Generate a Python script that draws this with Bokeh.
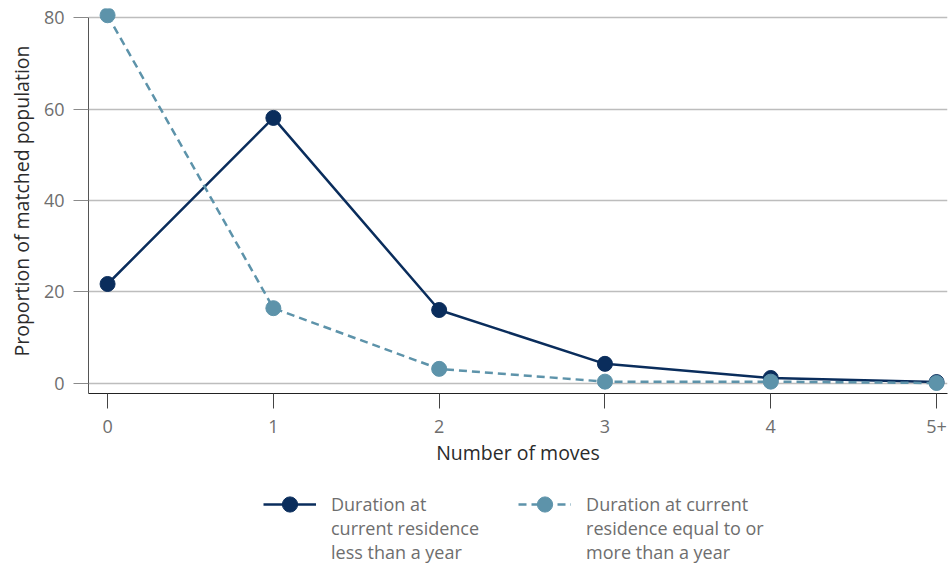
from bokeh.plotting import figure
from bokeh.layouts import column
from bokeh.models import Range1d, FixedTicker, Legend, LegendItem
from bokeh.embed import file_html
from bokeh.resources import INLINE

categories = ["0", "1", "2", "3", "4", "5+"]
less_than_year = [21.7, 58.1, 16.0, 4.2, 1.1, 0.2]
year_or_more = [80.6, 16.4, 3.1, 0.3, 0.3, 0.0]
y_ticks = [0, 20, 40, 60, 80]
series_labels = [
    "Duration at\ncurrent residence\nless than a year",
    "Duration at current\nresidence equal to or\nmore than a year",
]

DARK = "#0a2d5c"
LIGHT = "#5d93aa"
FONT = "Open Sans"

x = list(range(len(categories)))

p = figure(
    width=950, height=470,
    x_range=Range1d(-0.115, 5.066), y_range=Range1d(-2.3, 82.08),
    output_backend="svg", toolbar_location=None,
    min_border_left=88, min_border_right=3, min_border_top=8, min_border_bottom=77,
)
p.outline_line_color = None
p.background_fill_color = "white"

p.line(x, less_than_year, line_color=DARK, line_width=2.5)
p.scatter(x, less_than_year, size=15, fill_color=DARK, line_color=DARK)
p.line(x, year_or_more, line_color=LIGHT, line_width=2.5, line_dash="8 5")
p.scatter(x, year_or_more, size=15, fill_color=LIGHT, line_color=LIGHT)

# axes
p.xaxis.ticker = FixedTicker(ticks=x)
p.xaxis.major_label_overrides = {i: c for i, c in enumerate(categories)}
p.yaxis.ticker = FixedTicker(ticks=y_ticks)
p.yaxis.bounds = (-2.3, 80)

for ax in (p.xaxis[0], p.yaxis[0]):
    ax.major_tick_in = 0
    ax.major_tick_out = 15
    ax.minor_tick_line_color = None
    ax.major_label_text_font = FONT
    ax.major_label_text_font_size = "18px"
    ax.major_label_text_color = "#6e6e6e"
    ax.axis_label_text_font = FONT
    ax.axis_label_text_font_size = "19.5px"
    ax.axis_label_text_font_style = "normal"
    ax.axis_label_text_color = "#2b2b2b"

p.xaxis.major_label_standoff = 11
p.yaxis.major_label_standoff = 9
p.xaxis.axis_label = "Number of moves"
p.yaxis.axis_label = "Proportion of matched population"
p.xaxis.axis_line_color = "#222222"
p.xaxis.major_tick_line_color = "#444444"
p.yaxis.axis_line_color = "#555555"
p.yaxis.major_tick_line_color = "#8a8a8a"
p.xaxis.axis_label_standoff = 3
p.yaxis.axis_label_standoff = 6

p.xgrid.grid_line_color = None
p.ygrid.grid_line_color = "#bdbdbd"
p.ygrid.grid_line_width = 1.5

# legend panel as a separate figure below the chart
lf = figure(
    width=950, height=98,
    x_range=Range1d(-1, 0), y_range=Range1d(-1, 0),
    output_backend="svg", toolbar_location=None,
    min_border_left=88, min_border_right=3, min_border_top=0, min_border_bottom=0,
)
lf.axis.visible = False
lf.grid.grid_line_color = None
lf.outline_line_color = None
ll1 = lf.line(x, less_than_year, line_color=DARK, line_width=2.5, visible=False)
ls1 = lf.scatter(x, less_than_year, size=15, fill_color=DARK, line_color=DARK, visible=False)
ll2 = lf.line(x, year_or_more, line_color=LIGHT, line_width=2.5, line_dash="8 5", visible=False)
ls2 = lf.scatter(x, year_or_more, size=15, fill_color=LIGHT, line_color=LIGHT, visible=False)

# two leading blank lines so the glyph (centred on the item) sits level with the first text line
legend = Legend(
    items=[
        LegendItem(label="\n\n" + series_labels[0], renderers=[ll1, ls1]),
        LegendItem(label="\n\n" + series_labels[1], renderers=[ll2, ls2]),
    ],
    orientation="horizontal", location=(175, 4),
    border_line_color=None, background_fill_alpha=0,
    label_text_font=FONT, label_text_font_size="18px", label_text_color="#6e6e6e",
    label_text_line_height=1.47,
    glyph_width=53, glyph_height=38, label_standoff=15, spacing=39,
    padding=0, margin=0,
)
lf.add_layout(legend, "center")

open("out.html", "w").write(file_html(column(p, lf), INLINE))
